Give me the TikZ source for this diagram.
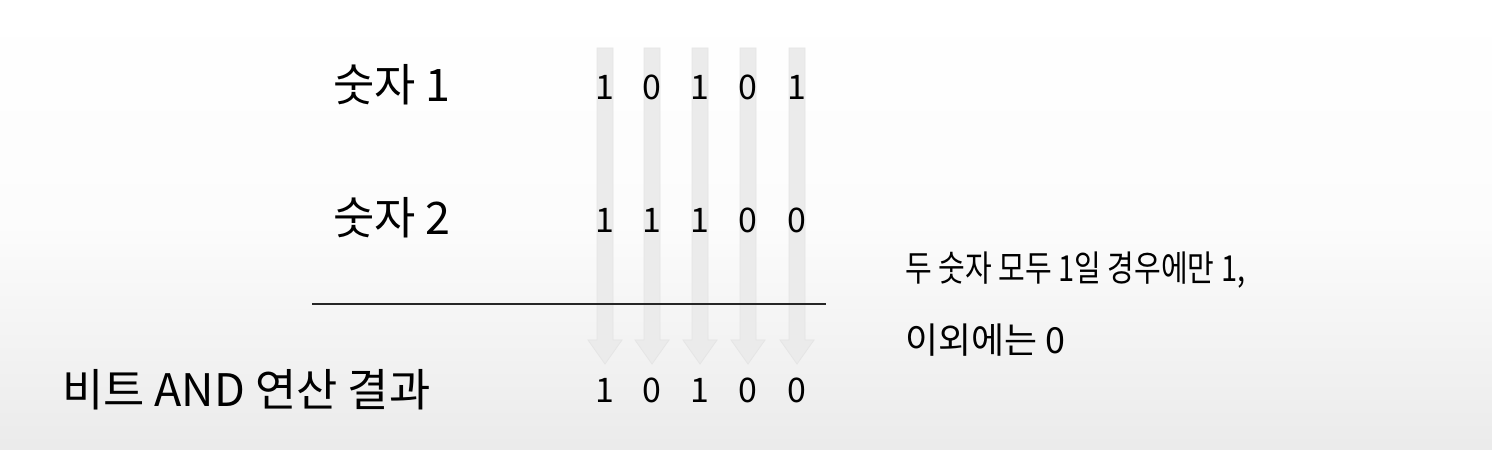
\documentclass[tikz,border=0pt]{standalone}
\usepackage{fontspec}
\usepackage{graphicx}
\setmainfont{Noto Sans CJK KR}
\begin{document}
\begin{tikzpicture}[x=1bp,y=-1bp,
  lbl/.style={anchor=west,inner sep=0pt,font=\fontsize{45}{52}\selectfont},
  note/.style={anchor=west,inner sep=0pt,font=\fontsize{36}{40}\selectfont},
  digit/.style={inner sep=0pt,font=\fontsize{34}{38}\selectfont},
  bgarrow/.style={fill=black!8,draw=black!10,line width=0.8bp}]
\useasboundingbox (0,0) rectangle (1492,450);
\shade[top color=white,bottom color=black!8,middle color=white!70!black!4] (0,0) rectangle (1492,450);
% light arrows
\foreach \x in {605,652,700,748,797}{
  \path[bgarrow] (\x-8,48) -- (\x+8,48) -- (\x+8,340) -- (\x+17,340) -- (\x,364) -- (\x-17,340) -- (\x-8,340) -- cycle;
}
% labels
\node[lbl] (n1) at (333,85) {숫자 1};
\node[lbl] (n2) at (333,218) {숫자 2};
\node[lbl] (res) at (62,390) {비트 AND 연산 결과};
% digits
\node[digit] (a1) at (605,87) {1};
\node[digit] (a2) at (652,87) {0};
\node[digit] (a3) at (700,87) {1};
\node[digit] (a4) at (748,87) {0};
\node[digit] (a5) at (797,87) {1};
\node[digit] (b1) at (605,220) {1};
\node[digit] (b2) at (652,220) {1};
\node[digit] (b3) at (700,220) {1};
\node[digit] (b4) at (748,220) {0};
\node[digit] (b5) at (797,220) {0};
\node[digit] (c1) at (605,390) {1};
\node[digit] (c2) at (652,390) {0};
\node[digit] (c3) at (700,390) {1};
\node[digit] (c4) at (748,390) {0};
\node[digit] (c5) at (797,390) {0};
% rule
\coordinate (l1) at (312,304);
\coordinate (l2) at (826,304);
\draw[line width=2bp,black!85] (l1) -- (l2);
% note
\node[note] (t1) at (905,270) {\resizebox{340bp}{\height}{두 숫자 모두 1일 경우에만 1,}};
\node[note] (t2) at (905,340) {이외에는 0};
\end{tikzpicture}
\end{document}
